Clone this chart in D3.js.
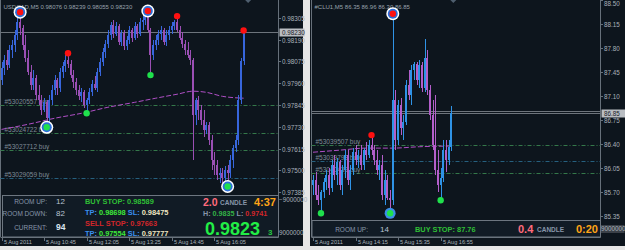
<!DOCTYPE html>
<html>
<head>
<meta charset="utf-8">
<script src="https://cdnjs.cloudflare.com/ajax/libs/d3/7.8.5/d3.min.js"></script>
<style>
html, body { margin:0; padding:0; background:#e6e6e6; }
svg { display:block; font-family:"Liberation Sans", Arial, sans-serif; }
</style>
</head>
<body>
<svg id="chart" width="625" height="250"></svg>
<script>

// ---------------- USDCAD M5 (left window) ----------------
var usdTitle = "USDCAD,M5  0.98076 0.98239 0.98055 0.98230";

var usdOpen = [
	0.97976,0.98040,0.98082,0.98055,0.98135,0.98162,0.98215,0.98283,0.98252,0.98162,
	0.98093,0.98018,0.97950,0.97987,0.97897,0.97870,0.97817,0.97859,0.97775,0.97870,
	0.97923,0.97976,0.97934,0.98018,0.98050,0.98082,0.98061,0.98003,0.97965,0.97923,
	0.97891,0.97912,0.97844,0.97870,0.97912,0.97955,0.97934,0.98018,0.98071,0.98124,
	0.98167,0.98215,0.98268,0.98220,0.98262,0.98177,0.98225,0.98156,0.98188,0.98241,
	0.98199,0.98262,0.98220,0.98283,0.98294,0.98315,0.98241,0.98109,0.98162,0.98188,
	0.98220,0.98241,0.98177,0.98215,0.98241,0.98262,0.98283,0.98241,0.98199,0.98167,
	0.98135,0.98109,0.98082,0.97790,0.97870,0.97817,0.97764,0.97711,0.97737,0.97658,
	0.97552,0.97526,0.97473,0.97488,0.97457,0.97499,0.97488,0.97552,0.97616,0.97658,
	0.97870,0.98076
];
var usdHigh = [
	0.98071,0.98109,0.98135,0.98162,0.98188,0.98241,0.98305,0.98336,0.98268,0.98215,
	0.98135,0.98055,0.98029,0.98003,0.97950,0.97897,0.97881,0.97870,0.97897,0.97950,
	0.98003,0.97987,0.98040,0.98071,0.98109,0.98119,0.98082,0.98029,0.97987,0.97950,
	0.97934,0.97923,0.97881,0.97934,0.97976,0.97997,0.98040,0.98093,0.98146,0.98188,
	0.98241,0.98283,0.98294,0.98283,0.98273,0.98241,0.98241,0.98209,0.98262,0.98252,
	0.98283,0.98273,0.98305,0.98320,0.98331,0.98342,0.98252,0.98188,0.98215,0.98241,
	0.98262,0.98252,0.98241,0.98262,0.98283,0.98294,0.98315,0.98262,0.98230,0.98188,
	0.98177,0.98135,0.98093,0.97881,0.97891,0.97844,0.97817,0.97753,0.97753,0.97685,
	0.97594,0.97552,0.97510,0.97510,0.97520,0.97526,0.97579,0.97632,0.97685,0.97897,
	0.98093,0.98239
];
var usdLow = [
	0.97950,0.98003,0.98029,0.98040,0.98093,0.98124,0.98188,0.98215,0.98135,0.98071,
	0.98003,0.97923,0.97923,0.97870,0.97844,0.97790,0.97806,0.97727,0.97753,0.97844,
	0.97897,0.97897,0.97912,0.97987,0.98018,0.98040,0.97987,0.97934,0.97897,0.97870,
	0.97859,0.97828,0.97801,0.97849,0.97891,0.97923,0.97912,0.97997,0.98050,0.98093,
	0.98146,0.98188,0.98199,0.98209,0.98162,0.98156,0.98135,0.98135,0.98167,0.98177,
	0.98188,0.98199,0.98209,0.98241,0.98268,0.98230,0.98003,0.98082,0.98135,0.98162,
	0.98188,0.98162,0.98156,0.98188,0.98220,0.98241,0.98230,0.98188,0.98146,0.98109,
	0.98093,0.98055,0.97552,0.97737,0.97764,0.97737,0.97674,0.97690,0.97632,0.97499,
	0.97473,0.97446,0.97435,0.97430,0.97435,0.97414,0.97457,0.97510,0.97594,0.97632,
	0.97849,0.98055
];
var usdClose = [
	0.98040,0.98082,0.98055,0.98135,0.98162,0.98215,0.98283,0.98252,0.98162,0.98093,
	0.98018,0.97950,0.97987,0.97897,0.97870,0.97817,0.97859,0.97775,0.97870,0.97923,
	0.97976,0.97934,0.98018,0.98050,0.98082,0.98061,0.98003,0.97965,0.97923,0.97891,
	0.97912,0.97844,0.97870,0.97912,0.97955,0.97934,0.98018,0.98071,0.98124,0.98167,
	0.98215,0.98268,0.98220,0.98262,0.98177,0.98225,0.98156,0.98188,0.98241,0.98199,
	0.98262,0.98220,0.98283,0.98294,0.98315,0.98241,0.98109,0.98162,0.98188,0.98220,
	0.98241,0.98177,0.98215,0.98241,0.98262,0.98283,0.98241,0.98199,0.98167,0.98135,
	0.98109,0.98082,0.97790,0.97870,0.97817,0.97764,0.97711,0.97737,0.97658,0.97552,
	0.97526,0.97473,0.97488,0.97457,0.97499,0.97488,0.97552,0.97616,0.97658,0.97870,
	0.98076,0.98230
];

// moving average, read at a few bars
var usdMaIdx = [0, 10, 20, 30, 40, 50, 58, 66, 72, 77, 83, 91];
var usdMaVal = [0.97716,0.97743,0.97775,0.97801,0.97833,0.97859,0.97881,0.97902,0.97918,0.97912,0.97891,0.97881];

// fractal markers (bar index), 1 = ringed
var usdUpIdx = [7, 25, 55, 66, 91];
var usdUpRing = [1, 0, 1, 0, 0];
var usdDnIdx = [17, 32, 56, 85];
var usdDnRing = [1, 0, 0, 1];

// pending orders
var usdOrderPrice = [0.97844, 0.97695, 0.97605, 0.97457];
var usdOrderLabel = ["#53020557 buy", "#53024722 buy", "#53027712 buy", "#53029059 buy"];
var usdOrderKind = ["g", "g", "g", "b"];

var usdPriceTicks = [0.98305,0.98190,0.98075,0.97960,0.97845,0.97730,0.97615,0.97500,0.97385];
var usdCurrent = 0.98230;
var usdSubTicks = [-9000000, 9000000];

var usdTimeIdx = [0, 16, 32, 48, 64, 80];
var usdTimeLabel = ["5 Aug 2011","5 Aug 10:45","5 Aug 12:05","5 Aug 13:25","5 Aug 14:45","5 Aug 16:05"];

// ---------------- #CLU1 M5 (right window) ----------------
var clTitle = "#CLU1,M5  86.35 86.96 86.30 86.85";

var clOpen = [
	85.80,85.88,85.66,85.58,85.70,85.85,85.95,85.76,86.09,85.95,
	86.14,85.80,86.02,86.24,85.88,86.02,86.28,86.17,86.24,86.09,
	86.31,86.24,86.39,86.31,86.17,86.02,86.09,85.66,85.88,85.61,
	85.58,87.04,86.46,86.97,86.63,86.72,87.26,87.11,87.48,87.57,
	87.33,87.55,87.22,87.65,87.19,86.82,86.39,86.02,85.80,85.90,
	86.31,86.17,86.35
];
var clHigh = [
	85.95,85.99,85.80,85.73,85.90,86.02,86.05,86.17,86.24,86.20,
	86.17,86.09,86.31,86.31,86.09,86.34,86.39,86.31,86.39,86.34,
	86.43,86.46,86.53,86.39,86.31,86.17,86.24,86.02,85.95,85.73,
	88.30,87.19,87.04,87.07,86.82,87.33,87.48,87.55,87.60,87.60,
	87.62,87.60,87.93,87.77,87.26,87.04,87.11,86.31,86.05,86.46,
	86.46,86.46,86.96
];
var clLow = [
	85.66,85.58,85.51,85.39,85.61,85.73,85.66,85.70,85.88,85.80,
	85.73,85.66,85.90,85.80,85.73,85.95,86.09,86.05,86.02,86.02,
	86.17,86.20,86.24,86.09,85.95,85.88,85.58,85.51,85.58,85.39,
	85.51,86.31,86.39,86.53,86.46,86.68,87.04,86.97,87.33,87.26,
	87.22,87.16,87.16,87.11,86.75,86.31,85.95,85.70,85.58,85.85,
	85.99,86.09,86.30
];
var clClose = [
	85.88,85.66,85.58,85.70,85.85,85.95,85.76,86.09,85.95,86.14,
	85.80,86.02,86.24,85.88,86.02,86.28,86.17,86.24,86.09,86.31,
	86.24,86.39,86.31,86.17,86.02,86.09,85.66,85.88,85.61,85.58,
	87.04,86.46,86.97,86.63,86.72,87.26,87.11,87.48,87.57,87.33,
	87.55,87.22,87.65,87.19,86.82,86.39,86.02,85.80,85.90,86.31,
	86.17,86.35,86.85
];

var clMaIdx = [0, 10, 20, 30, 40, 52];
var clMaVal = [86.28, 86.31, 86.34, 86.34, 86.36, 86.37];

var clUpIdx = [30, 22];
var clUpRing = [1, 0];
var clDnIdx = [3, 29, 48];
var clDnRing = [0, 1, 0];

var clOrderPrice = [86.39, 86.15, 85.98];
var clOrderLabel = ["#53039507 buy", "#53039798 buy", "#53040433 buy"];
var clOrderKind = ["g", "b", "g"];

var clPriceTicks = [88.50,88.15,87.80,87.45,87.10,86.75,86.40,86.05,85.70,85.35];
var clCurrent = 86.85;
var clAsk = 86.88;
var clSubTicks = [9000000];

var clTimeIdx = [0, 16, 32, 48];
var clTimeLabel = ["5 Aug 2011","5 Aug 14:15","5 Aug 15:35","5 Aug 16:55"];


// ---------------- drawing ----------------
var svg = d3.select("#chart");
var bgColor = "#0d151d";
var axisColor = "#66707a";
var textGray = "#a9b1ba";

function txt(g, x, y, s, color, size, weight, anchor) {
	return g.append("text")
		.attr("x", x).attr("y", y)
		.attr("fill", color)
		.attr("font-size", size)
		.attr("font-weight", weight || "normal")
		.attr("text-anchor", anchor || "start")
		.text(s);
}

function drawPanel(p) {
	var g = svg.append("g");
	var n = p.open.length;

	g.append("rect").attr("x", p.bgX).attr("y", 0).attr("width", p.bgW).attr("height", 246).attr("fill", bgColor);

	var x = d3.scaleLinear().domain([0, n - 1]).range([p.x0, p.x1]);
	var y = d3.scaleLinear().domain(p.yDom).range(p.yRng);

	// frame
	g.append("line").attr("x1", p.plotL).attr("x2", p.plotL).attr("y1", 0).attr("y2", p.plotB).attr("stroke", axisColor);
	g.append("line").attr("x1", p.axisX).attr("x2", p.axisX).attr("y1", 0).attr("y2", p.plotB).attr("stroke", axisColor);
	g.append("line").attr("x1", p.plotL).attr("x2", p.axisX).attr("y1", p.plotB + 0.5).attr("y2", p.plotB + 0.5).attr("stroke", axisColor);

	// title
	txt(g, p.plotL + 3, 8.5, p.title, "#98a2ac", 6);

	// shift marker
	var sx = p.x1 + p.shift;
	g.append("path").attr("d", "M" + (sx - 3) + ",0L" + (sx + 3) + ",0L" + sx + ",3Z").attr("fill", "#4e5e6e");

	// pending order lines
	p.orders.forEach(function(v, k) {
		var yy = Math.round(y(v)) + 0.5;
		g.append("line")
			.attr("x1", p.plotL).attr("x2", p.axisX)
			.attr("y1", yy).attr("y2", yy)
			.attr("stroke", p.orderKind[k] == "g" ? "#34784a" : "#26607f")
			.attr("stroke-dasharray", "4,2,1,2");
		txt(g, p.plotL + 4, yy - 1.5, p.orderLabel[k], "#7f8a96", 6.5);
	});

	// current price lines
	p.priceLines.forEach(function(v) {
		var yy = Math.round(y(v)) + 0.5;
		g.append("line").attr("x1", p.plotL).attr("x2", p.axisX).attr("y1", yy).attr("y2", yy)
			.attr("stroke", "#6d747c");
	});

	// moving average
	var ma = p.maIdx.map(function(d, k) { return [d, p.maVal[k]]; });
	g.append("path")
		.attr("d", d3.line().x(function(d) { return x(d[0]); }).y(function(d) { return y(d[1]); }).curve(d3.curveMonotoneX)(ma))
		.attr("fill", "none").attr("stroke", p.maColor).attr("stroke-width", 1)
		.attr("stroke-dasharray", "5,2");

	// candles
	var bars = d3.range(n).map(function(i) {
		return { i: i, o: p.open[i], h: p.high[i], l: p.low[i], c: p.close[i] };
	});
	var cg = g.append("g").attr("shape-rendering", "crispEdges");
	cg.selectAll("rect.wick").data(bars).enter().append("rect")
		.attr("class", "wick")
		.attr("x", function(d) { return Math.round(x(d.i)); })
		.attr("y", function(d) { return y(d.h); })
		.attr("width", 1)
		.attr("height", function(d) { return Math.max(1, y(d.l) - y(d.h)); })
		.attr("fill", function(d) { return d.c >= d.o ? p.upColor : p.dnColor; });
	cg.selectAll("rect.body").data(bars).enter().append("rect")
		.attr("class", "body")
		.attr("x", function(d) { return Math.round(x(d.i)) - 1; })
		.attr("y", function(d) { return y(Math.max(d.o, d.c)); })
		.attr("width", 2)
		.attr("height", function(d) { return Math.max(1, Math.abs(y(d.o) - y(d.c))); })
		.attr("fill", function(d) { return d.c >= d.o ? p.upColor : p.dnColor; });

	// fractal markers
	function marker(cx, cy, col, ring) {
		if (ring == "white") {
			g.append("circle").attr("cx", cx).attr("cy", cy).attr("r", 6.5).attr("fill", "#ffffff");
			g.append("circle").attr("cx", cx).attr("cy", cy).attr("r", 5).attr("fill", "#2b6fd8");
		} else if (ring == "blue") {
			g.append("circle").attr("cx", cx).attr("cy", cy).attr("r", 5.5).attr("fill", "#3b8ee6");
		}
		g.append("circle").attr("cx", cx).attr("cy", cy).attr("r", 3.2).attr("fill", col);
	}
	p.upIdx.forEach(function(i, k) {
		marker(x(i), y(p.high[i]), "#ff1010", p.upRing[k] ? "white" : null);
	});
	p.dnIdx.forEach(function(i, k) {
		marker(x(i), y(p.low[i]), "#1fe04c", p.dnRing[k] ? p.dnRingStyle : null);
	});

	// price axis
	p.ticks.forEach(function(v) {
		var yy = Math.round(y(v)) + 0.5;
		g.append("line").attr("x1", p.axisX).attr("x2", p.axisX + 2.5).attr("y1", yy).attr("y2", yy).attr("stroke", axisColor);
		txt(g, p.axisX + 3.5, Math.max(6, yy + 2.3), d3.format(p.fmt)(v), textGray, 6.3);
	});
	var cy0 = Math.round(y(p.current)) + 0.5;
	g.append("rect").attr("x", p.axisX + 1).attr("y", cy0 - 4).attr("width", 25).attr("height", 8).attr("fill", "#b9bdc2");
	txt(g, p.axisX + 3.5, cy0 + 2.3, d3.format(p.fmt)(p.current), "#1a2028", 6.3);

	// indicator sub-window scale
	var ys = d3.scaleLinear().domain(p.subDom).range(p.subRng);
	p.subTicks.forEach(function(v) {
		var yy = ys(v);
		if (p.subBox) {
			g.append("rect").attr("x", p.axisX - 2).attr("y", yy - 4).attr("width", 26).attr("height", 8).attr("fill", "#3a4048");
		}
		txt(g, p.axisX + 0.5, yy + 2.3, d3.format("d")(v), textGray, 6.3);
	});

	// time axis
	p.timeIdx.forEach(function(i, k) {
		var xx = Math.round(x(i)) + 0.5;
		g.append("line").attr("x1", xx).attr("x2", xx).attr("y1", p.plotB).attr("y2", p.plotB + 4).attr("stroke", axisColor);
		txt(g, xx + 1.5, 244, p.timeLabel[k], textGray, 5.6);
	});

	return g;
}

var left = drawPanel({
	bgX: 0, bgW: 303, plotL: 0.5, axisX: 278.5, plotB: 237,
	x0: 1.5, x1: 243.6, shift: 4.5,
	yDom: [0.97385, 0.98305], yRng: [192, 18],
	title: usdTitle,
	open: usdOpen, high: usdHigh, low: usdLow, close: usdClose,
	maIdx: usdMaIdx, maVal: usdMaVal, maColor: "#b04fc6",
	upIdx: usdUpIdx, upRing: usdUpRing, dnIdx: usdDnIdx, dnRing: usdDnRing, dnRingStyle: "white",
	orders: usdOrderPrice, orderLabel: usdOrderLabel, orderKind: usdOrderKind,
	priceLines: [usdCurrent],
	ticks: usdPriceTicks, fmt: ".5f", current: usdCurrent,
	subTicks: usdSubTicks, subDom: [-9000000, 9000000], subRng: [200, 233], subBox: false,
	timeIdx: usdTimeIdx, timeLabel: usdTimeLabel,
	upColor: "#3766dc", dnColor: "#9a4fb4"
});

var right = drawPanel({
	bgX: 310, bgW: 315, plotL: 311.5, axisX: 600.5, plotB: 237,
	x0: 313, x1: 451.3, shift: 2,
	yDom: [85.35, 88.15], yRng: [216, 24],
	title: clTitle,
	open: clOpen, high: clHigh, low: clLow, close: clClose,
	maIdx: clMaIdx, maVal: clMaVal, maColor: "#b04fc6",
	upIdx: clUpIdx, upRing: clUpRing, dnIdx: clDnIdx, dnRing: clDnRing, dnRingStyle: "blue",
	orders: clOrderPrice, orderLabel: clOrderLabel, orderKind: clOrderKind,
	priceLines: [clCurrent, clAsk],
	ticks: clPriceTicks, fmt: ".2f", current: clCurrent,
	subTicks: clSubTicks, subDom: [0, 9000000], subRng: [237, 229], subBox: true,
	timeIdx: clTimeIdx, timeLabel: clTimeLabel,
	upColor: "#2f93e6", dnColor: "#b25ec9"
});

// ---------------- info boxes ----------------
var lbl = "#8796aa", val = "#b8c4d2";
var green = "#2fbf35", bright = "#3ee83a", blue = "#3a8ff0", cream = "#efe6c2", red = "#d3262a";
var pink = "#ff6b7c", orange = "#ffa516";

// left box
left.append("rect").attr("x", 2.5).attr("y", 195.5).attr("width", 276).attr("height", 41.5)
	.attr("fill", "#111b25").attr("stroke", "#6d7680");
txt(left, 47, 203.5, "ROOM UP:", lbl, 6.5, "normal", "end");
txt(left, 56, 204, "12", val, 8);
txt(left, 47, 215.5, "ROOM DOWN:", lbl, 6.5, "normal", "end");
txt(left, 56, 216, "82", val, 8);
txt(left, 47, 229.5, "CURRENT:", lbl, 6.5, "normal", "end");
txt(left, 56, 230, "94", "#dbe6f2", 8.5, "bold");

txt(left, 85, 203.5, "BUY STOP: 0.98589", green, 7.4, "bold");
var t1 = txt(left, 85, 214.5, "", blue, 7.4, "bold");
t1.append("tspan").attr("fill", blue).text("TP: ");
t1.append("tspan").attr("fill", bright).text("0.98698");
t1.append("tspan").attr("fill", blue).text("  SL: ");
t1.append("tspan").attr("fill", cream).text("0.98475");
txt(left, 85, 225.5, "SELL STOP: 0.97663", red, 7.4, "bold");
var t2 = txt(left, 85, 235.5, "", blue, 7.4, "bold");
t2.append("tspan").attr("fill", blue).text("TP: ");
t2.append("tspan").attr("fill", bright).text("0.97554");
t2.append("tspan").attr("fill", blue).text("  SL: ");
t2.append("tspan").attr("fill", cream).text("0.97777");

txt(left, 203, 206, "2.0", pink, 10.5, "bold");
txt(left, 220, 205, "CANDLE", lbl, 6.5, "bold");
txt(left, 276, 206, "4:37", orange, 11, "bold", "end");
var t3 = txt(left, 203, 215.5, "", lbl, 7.2, "bold");
t3.append("tspan").attr("fill", lbl).text("H: ");
t3.append("tspan").attr("fill", "#34b247").text("0.9835");
t3.append("tspan").attr("fill", lbl).text("  L: ");
t3.append("tspan").attr("fill", red).text("0.9741");
txt(left, 205, 235, "0.9823", "#22ee46", 18, "bold");
txt(left, 268, 235, "3", "#25c944", 8, "bold");

// right box
right.append("rect").attr("x", 312).attr("y", 220.5).attr("width", 288.5).attr("height", 16.5)
	.attr("fill", "#111b25").attr("stroke", "#6d7680");
txt(right, 368, 231.5, "ROOM UP:", lbl, 6.5, "normal", "end");
txt(right, 380, 232, "14", val, 8);
txt(right, 415, 231.5, "BUY STOP: 87.76", green, 7.4, "bold");
txt(right, 518, 233, "0.4", pink, 11, "bold");
txt(right, 537, 232, "CANDLE", lbl, 6.5, "bold");
txt(right, 598, 233, "0:20", orange, 11, "bold", "end");

</script>
</body>
</html>
